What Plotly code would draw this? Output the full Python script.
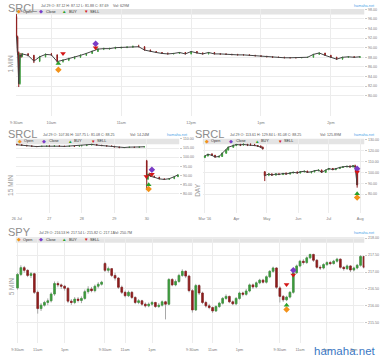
import plotly.graph_objects as go
import pandas as pd

W, H = 380, 358
FONT = "Liberation Sans, Arial, sans-serif"
UP, DN, LINE, WICK = "#3b9a3b", "#8e1d1d", "#444444", "#a8a8a8"
C_OPEN, C_CLOSE, C_BUY, C_SELL = "#f2921a", "#7a3cc6", "#2aa02a", "#d41515"
GRID, BAR, TICK = "#ececec", "#e4e4e4", "#7a7a7a"

# ---------------- Panel 1 : SRCL 1 MIN (Jul 29 2016), minutes after 9:30 ----------------
p1_minutes = [0, 1, 2, 3, 4, 5, 10, 15, 20, 25, 30, 35, 40, 45, 50, 55, 60, 65, 70, 75, 80,
              85, 90, 95, 100, 105, 110, 115, 120, 125, 130, 135, 140, 145, 150, 155, 160,
              165, 170, 175, 180, 185, 190, 195, 200, 205, 210, 215, 220, 225, 230, 235,
              240, 245, 250, 255, 260, 265, 270, 275, 280, 285, 290, 295]
p1_open = [96.5, 92.3, 89.0, 82.5, 88.5, 88.2, 88.7, 88.4, 87.2, 88.1, 88.6, 88.5, 87.1, 87.4,
           87.7, 88.0, 88.4, 88.8, 89.2, 89.7, 89.8, 89.8, 90.0, 90.05, 90.1, 90.3, 90.2, 89.5,
           89.2, 89.0, 88.8, 88.7, 88.8, 89.0, 88.7, 89.2, 88.9, 88.7, 89.0, 88.7, 88.7, 88.6,
           88.6, 88.5, 88.5, 88.4, 88.3, 88.2, 88.1, 88.0, 88.0, 87.9, 87.9, 87.9, 87.95, 88.0,
           88.6, 88.9, 88.4, 88.0, 87.6, 88.0, 88.1, 88.0]
p1_high = [97.0, 92.5, 89.2, 88.9, 88.9, 88.9, 88.9, 88.5, 88.3, 88.8, 88.9, 88.6, 87.6, 87.9,
           88.2, 88.6, 88.9, 89.4, 89.9, 90.0, 90.0, 90.2, 90.2, 90.3, 90.4, 90.6, 90.3, 89.6,
           89.3, 89.1, 89.0, 88.9, 89.1, 89.1, 89.3, 89.3, 89.0, 89.1, 89.1, 88.8, 88.8, 88.7,
           88.7, 88.6, 88.6, 88.5, 88.4, 88.3, 88.2, 88.1, 88.1, 88.0, 88.0, 88.0, 88.1, 88.7,
           89.0, 88.9, 88.5, 88.1, 88.1, 88.2, 88.2, 88.2]
p1_low = [92.0, 88.5, 81.8, 82.3, 87.9, 88.0, 88.2, 86.8, 87.0, 88.0, 88.3, 86.9, 86.9, 87.2,
          87.6, 87.9, 88.3, 88.7, 89.1, 89.5, 89.6, 89.7, 89.8, 89.9, 90.0, 90.1, 89.4, 89.1,
          88.9, 88.7, 88.6, 88.6, 88.7, 88.6, 88.6, 88.8, 88.6, 88.6, 88.6, 88.5, 88.5, 88.4,
          88.4, 88.4, 88.3, 88.2, 88.1, 88.0, 87.9, 87.9, 87.8, 87.8, 87.8, 87.8, 87.9, 87.95,
          88.5, 88.3, 87.9, 87.5, 87.5, 87.9, 87.9, 87.9]
p1_close = [92.3, 89.0, 82.5, 88.5, 88.2, 88.7, 88.4, 87.2, 88.1, 88.6, 88.5, 87.1, 87.4, 87.7,
            88.0, 88.4, 88.8, 89.2, 89.7, 89.8, 89.8, 90.0, 90.05, 90.1, 90.3, 90.2, 89.5, 89.2,
            89.0, 88.8, 88.7, 88.8, 89.0, 88.7, 89.2, 88.9, 88.7, 89.0, 88.7, 88.7, 88.6, 88.6,
            88.5, 88.5, 88.4, 88.3, 88.2, 88.1, 88.0, 88.0, 87.9, 87.9, 87.9, 87.95, 88.0, 88.6,
            88.9, 88.4, 88.0, 87.6, 88.0, 88.1, 88.0, 88.1]
p1_open_mk = (["2016-07-29 10:06"], [85.4])
p1_close_mk = (["2016-07-29 10:38"], [90.8])
p1_buy_mk = (["2016-07-29 10:06"], [86.7])
p1_sell_mk = (["2016-07-29 10:10", "2016-07-29 10:38"], [88.8, 90.0])
p1_ticks = ["2016-07-29 09:30", "2016-07-29 10:00", "2016-07-29 11:00", "2016-07-29 12:00",
            "2016-07-29 13:00", "2016-07-29 14:00"]
p1_ticktext = ["9:30am", "10am", "11am", "12pm", "1pm", "2pm"]
p1_yticks = [80, 82, 84, 86, 88, 90, 92, 94, 96, 98]

# ---------------- Panel 2 : SRCL 15 MIN ----------------
p2_stamp = ["07-26 09:30", "07-26 10:30", "07-26 11:30", "07-26 12:30", "07-26 13:30", "07-26 14:30", "07-26 15:30",
            "07-27 09:30", "07-27 10:30", "07-27 11:30", "07-27 12:30", "07-27 13:30", "07-27 14:30", "07-27 15:30",
            "07-28 09:30", "07-28 10:30", "07-28 11:30", "07-28 12:30", "07-28 13:30", "07-28 14:30", "07-28 15:30",
            "07-29 09:30", "07-29 10:30", "07-29 11:30", "07-29 12:30", "07-29 13:30", "07-29 14:30", "07-29 15:30",
            "07-30 09:30", "07-30 09:45", "07-30 10:00", "07-30 10:15", "07-30 11:00", "07-30 12:00",
            "07-30 13:00", "07-30 14:00", "07-30 15:00", "07-30 15:45"]
p2_open = [107.0, 106.8, 106.5, 106.2, 105.9, 105.8, 106.0,
           106.1, 106.0, 106.2, 106.0, 105.9, 106.1, 106.0,
           106.2, 106.3, 106.6, 107.0, 106.6, 106.3, 106.1,
           106.0, 105.6, 105.2, 105.3, 105.5, 105.4, 105.6,
           98.0, 88.0, 90.5, 90.0, 89.5, 89.0, 88.1, 87.8, 88.2, 89.3]
p2_high = [107.3, 107.0, 106.7, 106.4, 106.1, 106.2, 106.3,
           106.4, 106.4, 106.3, 106.2, 106.3, 106.2, 106.4,
           106.5, 106.8, 107.3, 107.1, 106.7, 106.4, 106.3,
           106.1, 105.7, 105.5, 105.7, 105.6, 105.8, 105.9,
           98.5, 91.0, 91.5, 90.4, 89.8, 89.2, 88.3, 88.3, 89.5, 90.5]
p2_low = [106.6, 106.3, 106.0, 105.7, 105.6, 105.7, 105.9,
          105.8, 105.9, 105.8, 105.7, 105.8, 105.8, 105.9,
          106.0, 106.2, 106.5, 106.4, 106.1, 105.9, 105.8,
          105.4, 105.0, 105.0, 105.2, 105.2, 105.3, 105.5,
          82.0, 87.5, 89.8, 89.3, 88.8, 87.9, 87.6, 87.6, 88.0, 89.1]
p2_close = [106.8, 106.5, 106.2, 105.9, 105.8, 106.0, 106.1,
            106.0, 106.2, 106.0, 105.9, 106.1, 106.0, 106.2,
            106.3, 106.6, 107.0, 106.6, 106.3, 106.1, 106.0,
            105.6, 105.2, 105.3, 105.5, 105.4, 105.6, 105.7,
            88.0, 90.5, 90.0, 89.5, 89.0, 88.1, 87.8, 88.2, 89.3, 90.3]
p2_open_mk = (["07-30 09:53"], [82.5])
p2_close_mk = (["07-30 10:32"], [93.1])
p2_buy_mk = (["07-30 09:53"], [84.9])
p2_sell_mk = (["07-29 15:56", "07-30 10:32"], [89.4, 90.7])
p2_ticks = [26, 27, 28, 29, 30]
p2_ticktext = ["26 Jul", "27", "28", "29", "30"]
p2_yticks = [80, 85, 90, 95, 100, 105, 110]

# ---------------- Panel 3 : SRCL DAY ----------------
p3_date = ["2016-03-01", "2016-03-04", "2016-03-08", "2016-03-11", "2016-03-15", "2016-03-18",
           "2016-03-22", "2016-03-24", "2016-03-29", "2016-04-01", "2016-04-05", "2016-04-08",
           "2016-04-12", "2016-04-15", "2016-04-19", "2016-04-22", "2016-04-25", "2016-04-27",
           "2016-04-29", "2016-05-03", "2016-05-06", "2016-05-10", "2016-05-13", "2016-05-17",
           "2016-05-20", "2016-05-24", "2016-05-27", "2016-05-31", "2016-06-03", "2016-06-07",
           "2016-06-10", "2016-06-14", "2016-06-17", "2016-06-21", "2016-06-24", "2016-06-28",
           "2016-07-01", "2016-07-05", "2016-07-08", "2016-07-12", "2016-07-15", "2016-07-19",
           "2016-07-22", "2016-07-25", "2016-07-27", "2016-07-29"]
p3_open = [113.6, 115.0, 116.5, 115.5, 114.0, 114.5, 117.5, 120.5, 123.0, 124.5, 125.5, 125.0,
           125.5, 125.0, 125.0, 124.5, 124.0, 123.0, 100.5, 97.5, 98.5, 97.5, 98.5, 98.0, 99.0,
           98.5, 99.5, 100.0, 99.5, 100.5, 101.0, 100.0, 100.5, 101.5, 102.0, 100.0, 102.5,
           103.5, 102.5, 103.5, 104.5, 105.0, 105.5, 105.0, 106.0, 103.0]
p3_high = [115.5, 117.0, 117.5, 116.0, 115.5, 118.0, 121.0, 123.5, 125.5, 126.0, 126.0, 126.5,
           126.0, 126.5, 126.0, 125.0, 124.5, 123.5, 101.0, 99.0, 99.0, 99.0, 99.5, 99.5, 100.0,
           100.0, 100.5, 101.0, 101.0, 101.5, 101.5, 101.0, 102.0, 102.5, 102.5, 102.5, 104.0,
           104.0, 104.0, 105.0, 105.5, 106.0, 106.5, 106.5, 107.0, 103.5]
p3_low = [113.0, 114.6, 115.0, 113.5, 113.5, 114.2, 117.0, 120.0, 122.5, 124.0, 124.0, 124.5,
          124.0, 124.5, 124.0, 123.5, 122.5, 121.0, 92.0, 96.5, 97.0, 97.0, 97.5, 97.5, 98.0,
          98.0, 99.0, 99.0, 99.0, 100.0, 99.5, 99.0, 100.0, 101.0, 99.5, 99.5, 102.0, 102.0,
          102.0, 103.0, 104.0, 104.5, 104.5, 104.5, 104.5, 86.0]
p3_close = [115.0, 116.5, 115.5, 114.0, 114.5, 117.5, 120.5, 123.0, 124.5, 125.5, 125.0, 125.5,
            125.0, 125.0, 124.5, 124.0, 123.0, 121.5, 97.0, 98.5, 97.5, 98.5, 98.0, 99.0, 98.5,
            99.5, 100.0, 99.5, 100.5, 101.0, 100.0, 100.5, 101.5, 102.0, 100.0, 102.0, 103.5,
            102.5, 103.5, 104.5, 105.0, 105.5, 105.0, 106.0, 105.0, 88.5]
p3_open_mk = (["2016-07-29"], [76.9])
p3_close_mk = (["2016-07-29"], [103.3])
p3_buy_mk = (["2016-07-29"], [80.5])
p3_sell_mk = (["2016-07-29"], [100.3])
p3_ticks = ["2016-03-01", "2016-04-01", "2016-05-01", "2016-06-01", "2016-07-01", "2016-08-01"]
p3_ticktext = ["Mar '16", "Apr", "May", "Jun", "Jul", "Aug"]
p3_yticks = [80, 90, 100, 110, 120, 130]

# ---------------- Panel 4 : SPY 5 MIN (drawn as 15-minute bars) ----------------
spy_days = ["2016-07-26", "2016-07-27", "2016-07-28", "2016-07-29"]
spy_open_d1 = [216.53, 216.93, 217.13, 217.05, 216.90, 216.95, 216.40, 215.92, 216.02, 216.10, 216.15, 216.35, 216.66,
               216.62, 216.58, 216.52, 216.14, 216.10, 216.20, 216.16, 216.22, 216.42, 216.50, 216.45, 216.58, 216.64]
spy_high_d1 = [216.97, 217.20, 217.18, 217.08, 217.00, 216.98, 216.45, 216.08, 216.15, 216.22, 216.40, 216.72, 216.72,
               216.66, 216.62, 216.55, 216.20, 216.26, 216.26, 216.28, 216.48, 216.58, 216.56, 216.63, 216.70, 216.74]
spy_low_d1 = [216.48, 216.88, 216.98, 216.85, 216.82, 216.35, 215.77, 215.85, 215.98, 216.02, 216.10, 216.30, 216.55,
              216.50, 216.45, 216.08, 216.03, 216.05, 216.10, 216.08, 216.18, 216.36, 216.40, 216.40, 216.52, 216.60]
spy_close_d1 = [216.93, 217.13, 217.05, 216.90, 216.95, 216.40, 215.92, 216.02, 216.10, 216.15, 216.35, 216.66, 216.62,
                216.58, 216.52, 216.14, 216.10, 216.20, 216.16, 216.22, 216.42, 216.50, 216.45, 216.58, 216.64, 216.70]
spy_open_d2 = [217.25, 217.05, 217.10, 216.90, 216.82, 216.55, 216.40, 216.30, 216.40, 216.25, 216.10, 216.15, 216.05,
               216.00, 216.05, 216.10, 215.98, 216.02, 216.12, 216.05, 216.78, 216.62, 216.72, 216.90, 217.02, 216.88]
spy_high_d2 = [217.30, 217.16, 217.12, 216.98, 216.85, 216.60, 216.45, 216.45, 216.44, 216.28, 216.20, 216.18, 216.10,
               216.10, 216.15, 216.12, 216.08, 216.16, 216.15, 216.82, 216.82, 216.78, 216.95, 217.08, 217.05, 216.92]
spy_low_d2 = [217.00, 216.98, 216.85, 216.75, 216.50, 216.35, 216.25, 216.26, 216.20, 216.05, 216.05, 216.00, 215.95,
              215.96, 216.00, 215.94, 215.94, 215.98, 215.60, 216.02, 216.58, 216.58, 216.68, 216.86, 216.82, 216.40]
spy_close_d2 = [217.05, 217.10, 216.90, 216.82, 216.55, 216.40, 216.30, 216.40, 216.25, 216.10, 216.15, 216.05, 216.00,
                216.05, 216.10, 215.98, 216.02, 216.12, 216.05, 216.78, 216.62, 216.72, 216.90, 217.02, 216.88, 216.45]
spy_open_d3 = [216.45, 215.88, 216.60, 216.38, 216.10, 216.00, 215.95, 215.85, 215.98, 216.08, 216.22, 216.28, 216.12,
               216.06, 216.22, 216.38, 216.34, 216.44, 216.62, 216.56, 216.68, 216.76, 216.70, 216.86, 217.02, 217.12]
spy_high_d3 = [216.50, 216.65, 216.64, 216.42, 216.15, 216.06, 215.98, 216.02, 216.12, 216.26, 216.34, 216.30, 216.16,
               216.26, 216.42, 216.42, 216.50, 216.66, 216.66, 216.72, 216.80, 216.80, 216.90, 217.06, 217.16, 217.14]
spy_low_d3 = [215.80, 215.85, 216.32, 216.05, 215.95, 215.90, 215.79, 215.82, 215.94, 216.04, 216.18, 216.08, 216.02,
              216.02, 216.18, 216.28, 216.30, 216.40, 216.50, 216.52, 216.64, 216.66, 216.66, 216.82, 216.98, 216.50]
spy_close_d3 = [215.88, 216.60, 216.38, 216.10, 216.00, 215.95, 215.85, 215.98, 216.08, 216.22, 216.28, 216.12, 216.06,
                216.22, 216.38, 216.34, 216.44, 216.62, 216.56, 216.68, 216.76, 216.70, 216.86, 217.02, 217.12, 216.55]
spy_open_d4 = [216.53, 216.28, 216.18, 216.26, 216.40, 216.98, 217.18, 217.32, 217.28, 217.42, 217.52, 217.35, 217.14,
               217.12, 217.22, 217.28, 217.25, 217.32, 217.38, 217.14, 217.10, 217.18, 217.06, 217.12, 217.20, 217.46]
spy_high_d4 = [216.58, 216.32, 216.30, 216.44, 217.02, 217.22, 217.36, 217.38, 217.46, 217.54, 217.54, 217.38, 217.20,
               217.26, 217.32, 217.33, 217.36, 217.42, 217.40, 217.18, 217.22, 217.20, 217.16, 217.24, 217.50, 217.48]
spy_low_d4 = [216.10, 216.12, 216.14, 216.22, 216.36, 216.94, 217.14, 217.22, 217.24, 217.38, 217.30, 217.10, 217.06,
              217.08, 217.18, 217.20, 217.22, 217.28, 217.10, 217.04, 217.06, 217.00, 217.02, 217.08, 217.16, 217.10]
spy_close_d4 = [216.28, 216.18, 216.26, 216.40, 216.98, 217.18, 217.32, 217.28, 217.42, 217.52, 217.35, 217.14, 217.12,
                217.22, 217.28, 217.25, 217.32, 217.38, 217.14, 217.10, 217.18, 217.06, 217.12, 217.20, 217.46, 217.14]
spy_open_mk = (["2016-07-29 10:00"], [215.89])
spy_close_mk = (["2016-07-29 10:30"], [217.05])
spy_buy_mk = (["2016-07-29 10:00"], [216.02])
spy_sell_mk = (["2016-07-29 10:00", "2016-07-29 10:30"], [216.63, 216.91])
spy_tick_times = ["09:30", "11:00", "13:00"]
spy_tick_labels = ["9:30am", "11am", "1pm"]
spy_yticks = [215.5, 216.0, 216.5, 217.0, 217.5, 218.0]

# ---------------- build ----------------
p1_x = [pd.Timestamp("2016-07-29 09:30") + pd.Timedelta(minutes=m) for m in p1_minutes]


def session_pos(stamp):
    day = int(stamp[3:5]); hh = int(stamp[6:8]); mm = int(stamp[9:11])
    return day + (hh * 60 + mm - 570) / 390


p2_x = [session_pos(s) for s in p2_stamp]
spy_times = [f"{h:02d}:{m:02d}" for h in range(9, 16) for m in (0, 15, 30, 45) if (h, m) >= (9, 30)]
spy_x = [f"{d} {t}" for d in spy_days for t in spy_times]
spy_open = spy_open_d1 + spy_open_d2 + spy_open_d3 + spy_open_d4
spy_high = spy_high_d1 + spy_high_d2 + spy_high_d3 + spy_high_d4
spy_low = spy_low_d1 + spy_low_d2 + spy_low_d3 + spy_low_d4
spy_close = spy_close_d1 + spy_close_d2 + spy_close_d3 + spy_close_d4

fig = go.Figure()


def ax(n):
    return ("x" if n == 1 else f"x{n}"), ("y" if n == 1 else f"y{n}")


def candles(n, x, o, h, l, c, lw=1, wick=None):
    xa, ya = ax(n)
    if wick:  # grey wicks underneath, coloured bodies on top
        fig.add_trace(go.Candlestick(
            x=x, open=o, high=h, low=l, close=c, xaxis=xa, yaxis=ya, whiskerwidth=0,
            increasing=dict(line=dict(color=wick, width=1), fillcolor=wick),
            decreasing=dict(line=dict(color=wick, width=1), fillcolor=wick),
            showlegend=False, hoverinfo="skip"))
        h = [max(a, b) for a, b in zip(o, c)]
        l = [min(a, b) for a, b in zip(o, c)]
    fig.add_trace(go.Candlestick(
        x=x, open=o, high=h, low=l, close=c, xaxis=xa, yaxis=ya, whiskerwidth=0,
        increasing=dict(line=dict(color=UP, width=lw), fillcolor=UP),
        decreasing=dict(line=dict(color=DN, width=lw), fillcolor=DN),
        showlegend=False, hoverinfo="skip"))


def line(n, x, y):
    xa, ya = ax(n)
    fig.add_trace(go.Scatter(x=x, y=y, mode="lines", xaxis=xa, yaxis=ya,
                             line=dict(color=LINE, width=1), showlegend=False, hoverinfo="skip"))


def marks(n, mk, sym, color, size=5):
    xa, ya = ax(n)
    fig.add_trace(go.Scatter(x=mk[0], y=mk[1], mode="markers", xaxis=xa, yaxis=ya,
                             marker=dict(symbol=sym, color=color, size=size, line=dict(width=0)),
                             showlegend=False, hoverinfo="skip", cliponaxis=False))


def segments(x, o, c, jump):
    segs, cur = [], ([x[0]], [c[0]])
    for i in range(1, len(x)):
        if abs(o[i] - c[i - 1]) > jump:
            segs.append(cur); cur = ([], [])
        cur[0].append(x[i]); cur[1].append(c[i])
    segs.append(cur)
    return segs


# Panel 1
line(1, p1_x, p1_close)
candles(1, p1_x, p1_open, p1_high, p1_low, p1_close)
# Panel 2
for sx, sy in segments(p2_x, p2_open, p2_close, 4):
    line(2, sx, sy)
candles(2, p2_x, p2_open, p2_high, p2_low, p2_close)
# Panel 3
for sx, sy in segments(p3_date, p3_open, p3_close, 4):
    line(3, sx, sy)
candles(3, p3_date, p3_open, p3_high, p3_low, p3_close)
# Panel 4
candles(4, spy_x, spy_open, spy_high, spy_low, spy_close, lw=0.6, wick=WICK)

mk_sets = {
    1: (p1_open_mk, p1_close_mk, p1_buy_mk, p1_sell_mk),
    2: (([session_pos(s) for s in p2_open_mk[0]], p2_open_mk[1]),
        ([session_pos(s) for s in p2_close_mk[0]], p2_close_mk[1]),
        ([session_pos(s) for s in p2_buy_mk[0]], p2_buy_mk[1]),
        ([session_pos(s) for s in p2_sell_mk[0]], p2_sell_mk[1])),
    3: (p3_open_mk, p3_close_mk, p3_buy_mk, p3_sell_mk),
    4: (spy_open_mk, spy_close_mk, spy_buy_mk, spy_sell_mk),
}
for n, (mo, mc, mb, ms) in mk_sets.items():
    marks(n, mo, "diamond", C_OPEN)
    marks(n, mc, "diamond", C_CLOSE)
    marks(n, mb, "triangle-up", C_BUY)
    marks(n, ms, "triangle-down", C_SELL)

# ---------------- layout ----------------
PANELS = {  # pixel boxes: (left, right, top, bottom)
    1: (10, 364, 7, 115),
    2: (10, 176, 137.5, 212),
    3: (200, 364, 137.5, 212),
    4: (10, 364, 236.5, 343),
}
X_SPEC = {
    1: dict(type="date", range=["2016-07-29 09:29:30", "2016-07-29 14:28:40"], tickvals=p1_ticks, ticktext=p1_ticktext),
    2: dict(type="linear", range=[25.97, 31.0], tickvals=p2_ticks, ticktext=p2_ticktext),
    3: dict(type="date", range=["2016-02-28", "2016-08-05"], tickvals=p3_ticks, ticktext=p3_ticktext),
    4: dict(type="category", range=[-0.5, len(spy_x) - 0.9],
            tickvals=[f"{d} {t}" for d in spy_days for t in spy_tick_times] + ["2016-07-29 15:00"],
            ticktext=[lab for d in spy_days for lab in spy_tick_labels] + ["3pm"]),
}
Y_SPEC = {
    1: dict(range=[75.7, 98.06], tickvals=p1_yticks),
    2: dict(range=[69.5, 110.1], tickvals=p2_yticks),
    3: dict(range=[63.0, 130.73], tickvals=p3_yticks),
    4: dict(range=[214.9, 218.03], tickvals=spy_yticks),
}
lay = {}
for n, (l, r, t, b) in PANELS.items():
    s = "" if n == 1 else str(n)
    lay["xaxis" + s] = dict(domain=[l / W, r / W], anchor="y" + s, showgrid=True, gridcolor=GRID, gridwidth=1,
                            zeroline=False, showline=False, ticks="outside", ticklen=2, tickcolor="rgba(0,0,0,0)",
                            tickfont=dict(size=3.8, color=TICK), rangeslider=dict(visible=False), fixedrange=True,
                            tickangle=0, **X_SPEC[n])
    lay["yaxis" + s] = dict(domain=[1 - b / H, 1 - t / H], anchor="x" + s, side="right", showgrid=True,
                            gridcolor=GRID, gridwidth=1, zeroline=False, showline=False, ticks="outside",
                            ticklen=2, tickcolor="#c8c8c8", tickfont=dict(size=3.6, color=TICK),
                            tickformat=".2f", fixedrange=True, **Y_SPEC[n])

fig.update_layout(width=W, height=H, margin=dict(l=0, r=0, t=0, b=0), paper_bgcolor="white",
                  plot_bgcolor="white", showlegend=False, hovermode=False, font=dict(family=FONT), **lay)


def txt(x, y, s, size, color, xanchor="left", angle=0):
    fig.add_annotation(x=x / W, y=1 - y / H, xref="paper", yref="paper", text=s, showarrow=False,
                       font=dict(size=size, color=color, family=FONT), xanchor=xanchor, yanchor="middle",
                       textangle=angle, borderpad=0)


LEG = [("◆", C_OPEN, "Open"), ("◆", C_CLOSE, "Close"), ("▲", C_BUY, "BUY"), ("▼", C_SELL, "SELL")]
HEAD = {  # title, info, vol, title pos, info pos, vol pos, watermark pos, legend item x, side label
    1: ("SRCL", "Jul 29 O: 87.12 H: 87.12 L: 81.88 C: 87.69", "Vol: 629M", (1, 6.5), (35, 4.5), (108, 4.5),
        (376, 4.5), (13, 36, 59, 81), ("1 MIN", 5, 62)),
    2: ("SRCL", "Jul 29 O: 107.36 H: 107.75 L: 81.08 C: 88.25", "Vol: 14.24M", (1, 132.5), (37, 134), (125, 134),
        (186, 134), (14, 39, 65, 88), ("15 MIN", 5, 184)),
    3: ("SRCL", "Jul 29 O: 113.61 H: 129.84 L: 81.08 C: 88.25", "Vol: 125.89M", (191, 132.5), (227, 134),
        (318, 134), (376, 134), (204, 229, 255, 278), ("DAY", 195, 189)),
    4: ("SPY", "Jul 29 O: 216.53 H: 217.54 L: 215.82 C: 217.14", "Vol: 250.7M", (1, 231.5), (33, 232),
        (108, 232), (376, 232), (13, 36, 59, 81), ("5 MIN", 5, 286)),
}
for n, (title, info, vol, tp, ip, vp, wp, lx, side) in HEAD.items():
    l, r, t, b = PANELS[n]
    bar_top, bar_bot = t, t + 5.5
    fig.add_shape(type="rect", xref="paper", yref="paper", x0=l / W, x1=r / W, y0=1 - bar_bot / H,
                  y1=1 - bar_top / H, fillcolor=BAR, line_width=0, layer="between")
    yc = (bar_top + bar_bot) / 2
    for (sym, col, lab), xc in zip(LEG, lx):
        txt(xc, yc, sym, 4.5, col, xanchor="center")
        txt(xc + 3.5, yc, lab, 3.8, "#333333")
    txt(tp[0], tp[1], title, 11, "#8c8c8c")
    txt(ip[0], ip[1], info, 3.6, "#555555")
    txt(vp[0], vp[1], vol, 3.6, "#555555")
    txt(wp[0], wp[1], "hamaha.net", 3.8, "#4da3e8", xanchor="right")
    txt(side[1], side[2], side[0], 6.5, "#9a9a9a", xanchor="center", angle=-90)

txt(377, 351, "hamaha.net", 11.5, "#3b78c4", xanchor="right")

fig.write_html("out.html", config={"displayModeBar": False, "staticPlot": True},
               post_script="document.body.style.margin='0';document.body.style.padding='0';")
